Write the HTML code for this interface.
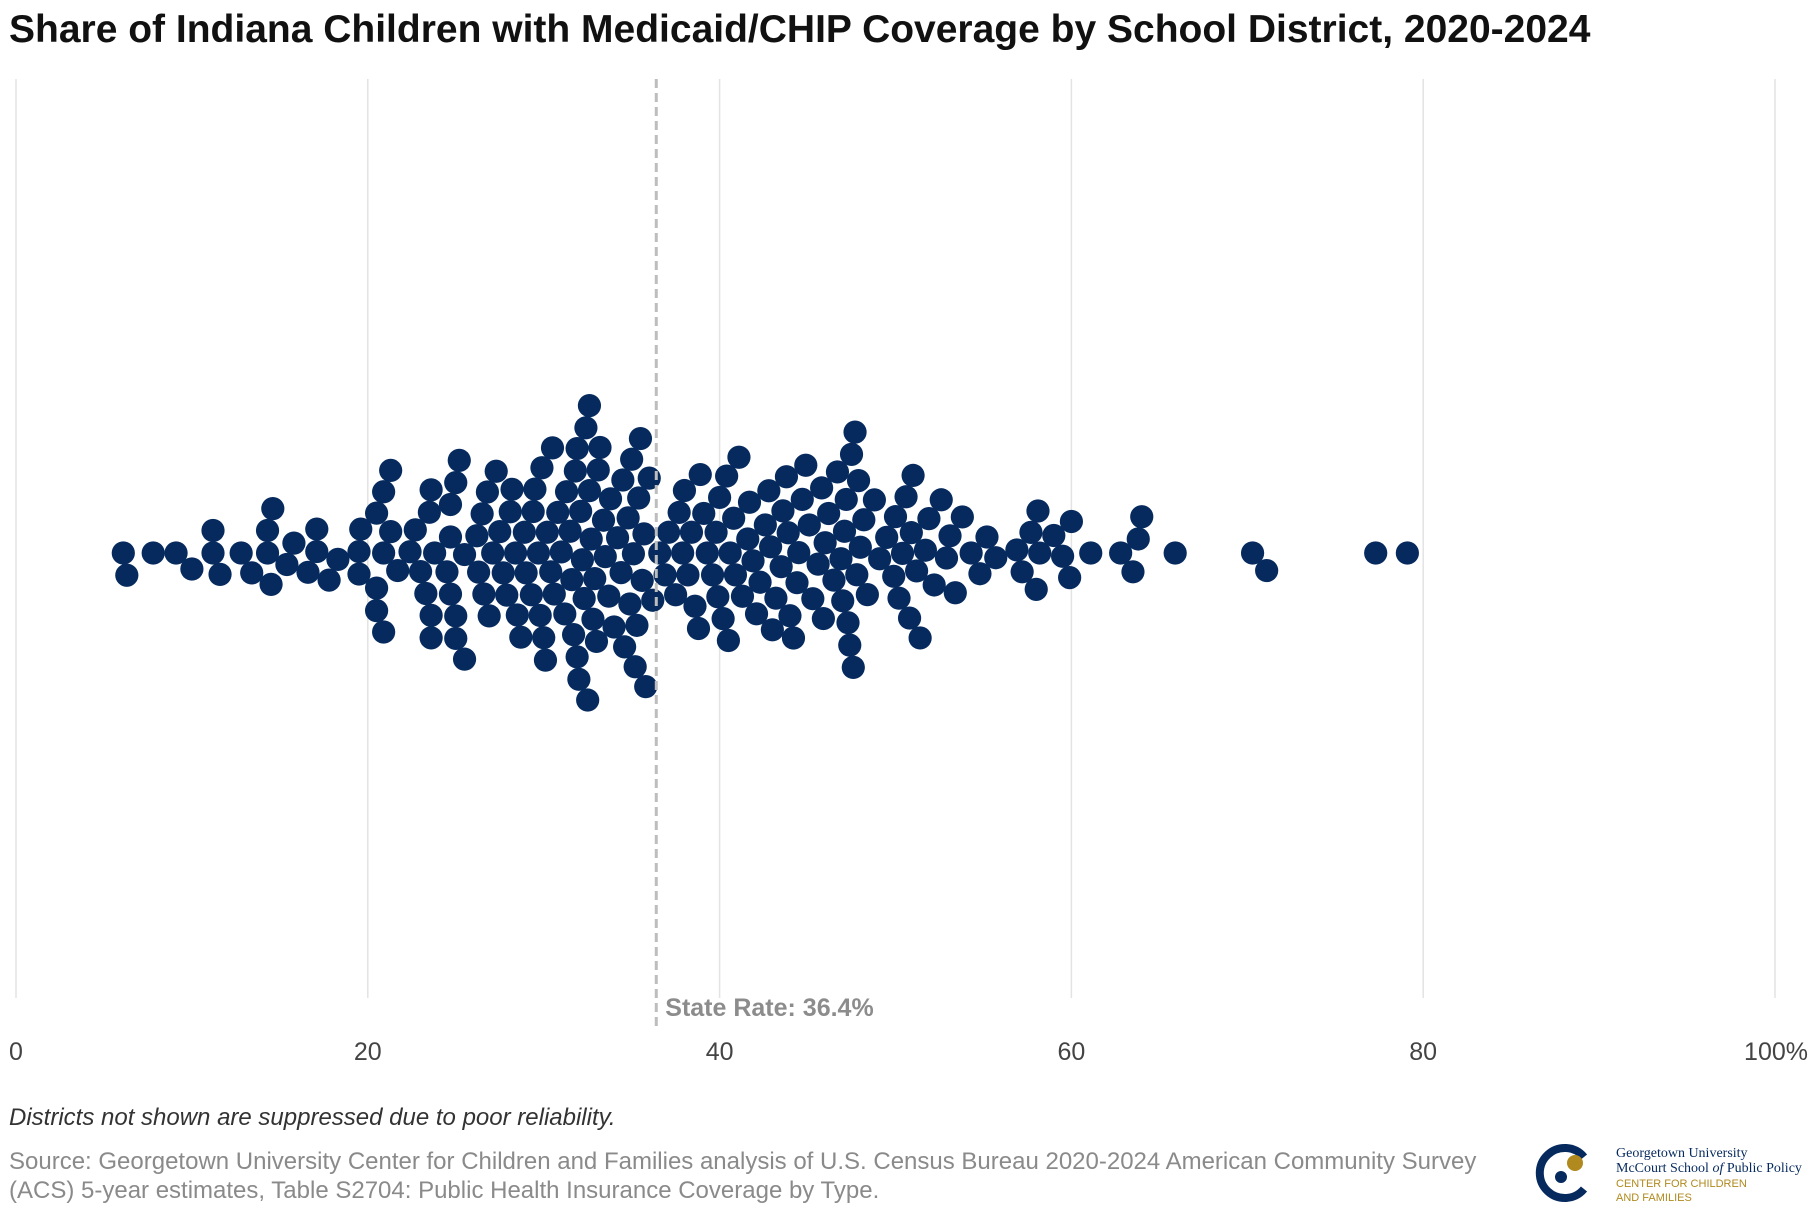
<!DOCTYPE html>
<html><head><meta charset="utf-8">
<style>
body{margin:0;background:#fff;}
svg{display:block;}
</style></head>
<body>
<svg id="chart" width="1820" height="1220" viewBox="0 0 1820 1220" xmlns="http://www.w3.org/2000/svg">
<text x="9" y="42" font-family="Liberation Sans, sans-serif" font-size="39" font-weight="bold" fill="#111">Share of Indiana Children with Medicaid/CHIP Coverage by School District, 2020-2024</text>
<g id="grid"></g>
<g id="ticks"></g>
<g id="dots"></g>
<g id="ref"></g>
<text x="9" y="1125" font-family="Liberation Sans, sans-serif" font-size="24" font-style="italic" fill="#333">Districts not shown are suppressed due to poor reliability.</text>
<text font-family="Liberation Sans, sans-serif" font-size="24" fill="#8a8a8a"><tspan x="9" y="1169">Source: Georgetown University Center for Children and Families analysis of U.S. Census Bureau 2020-2024 American Community Survey</tspan><tspan x="9" y="1198">(ACS) 5-year estimates, Table S2704: Public Health Insurance Coverage by Type.</tspan></text>
<g>
<path d="M1584 1157 A25 25 0 1 0 1584 1189" fill="none" stroke="#062a5e" stroke-width="8"/>
<circle cx="1575" cy="1163" r="8" fill="#b08a1e"/>
<circle cx="1561" cy="1177" r="6" fill="#062a5e"/>
<text x="1616" y="1157" font-family="Liberation Serif, serif" font-size="14" fill="#062a5e">Georgetown University</text>
<text x="1616" y="1172" font-family="Liberation Serif, serif" font-size="14" fill="#062a5e">McCourt School <tspan font-style="italic">of</tspan> Public Policy</text>
<text x="1616" y="1187" font-family="Liberation Sans, sans-serif" font-size="11" fill="#b08a1e">CENTER FOR CHILDREN</text>
<text x="1616" y="1201" font-family="Liberation Sans, sans-serif" font-size="11" fill="#b08a1e">AND FAMILIES</text>
</g>
</svg>
<script>
const tickValues = [0, 20, 40, 60, 80, 100];
const tickLabels = ["0", "20", "40", "60", "80", "100%"];
const stateRate = 36.4;
const shares = [
6.1,6.3,7.8,9.1,10.0,11.2,11.2,11.6,12.8,13.4,14.3,14.3,14.5,14.6,15.4,15.8,16.6,17.1,17.1,17.8,18.3,
19.5,19.5,19.6,20.5,20.5,20.5,20.9,20.9,20.9,21.3,21.3,21.7,
22.4,22.7,23.0,23.3,23.6,23.6,23.8,23.5,23.6,24.5,24.7,24.7,25.0,24.7,25.0,25.0,25.2,25.5,25.5,26.2,
26.3,26.5,26.8,26.9,26.6,
27.1,27.3,27.5,27.7,27.9,
28.1,28.2,28.4,28.5,28.7,28.9,
29.0,29.3,29.4,29.5,29.7,29.8,29.9,
30.0,30.2,30.4,30.5,30.6,30.8,30.1,
31.0,31.2,31.3,31.5,31.6,31.7,31.8,31.9,31.9,
32.0,32.1,32.2,32.3,32.4,32.5,32.6,32.7,32.8,32.9,32.6,
33.0,33.2,33.4,33.5,33.7,33.8,33.1,
34.0,34.2,34.5,34.6,34.8,34.9,34.4,
35.0,35.1,35.2,35.4,35.5,35.6,35.7,35.8,35.3,
36.0,36.2,36.6,36.9,
37.1,37.5,37.7,37.9,
38.0,38.2,38.4,38.6,38.8,38.9,
39.1,39.3,39.6,39.8,39.9,
40.0,40.2,40.4,40.5,40.6,40.8,40.9,
41.1,41.3,41.6,41.7,41.9,
42.1,42.3,42.6,42.8,42.9,
43.0,43.2,43.5,43.6,43.8,43.9,
44.0,44.2,44.4,44.5,44.7,44.9,
45.1,45.3,45.6,45.8,45.9,
46.0,46.2,46.5,46.7,46.9,
47.0,47.1,47.2,47.3,47.4,47.5,47.6,47.7,47.8,47.9,
48.0,48.2,48.4,48.8,
49.1,49.5,49.9,
50.0,50.2,50.4,50.6,50.8,50.9,
51.0,51.2,51.4,51.7,51.9,
52.2,52.6,52.9,
53.1,53.4,53.8,
54.3,54.8,
55.2,55.7,
56.9,57.2,57.7,58.0,58.1,58.2,
59.0,59.5,59.9,60.0,61.1,62.8,63.5,63.8,64.0,65.9,70.3,71.1,77.3,79.1
];

const X0 = 16, X1 = 1775, CY = 553, R = 11.6, TOP = 79, BOT = 998;
const NS = 'http://www.w3.org/2000/svg';
function xScale(v){ return X0 + (X1 - X0) * v / 100; }

const grid = document.getElementById('grid');
const ticks = document.getElementById('ticks');
tickValues.forEach((t, i) => {
  const l = document.createElementNS(NS, 'line');
  l.setAttribute('x1', xScale(t)); l.setAttribute('x2', xScale(t));
  l.setAttribute('y1', TOP); l.setAttribute('y2', BOT);
  l.setAttribute('stroke', '#e3e3e3'); l.setAttribute('stroke-width', '1.5');
  
  
  grid.appendChild(l);
  const tx = document.createElementNS(NS, 'text');
  tx.setAttribute('x', xScale(t)); tx.setAttribute('y', 1060);
  tx.setAttribute('text-anchor', i === 0 ? 'start' : (i === tickValues.length - 1 ? 'end' : 'middle'));
  if (i === 0) tx.setAttribute('x', xScale(t) - 7);
  if (i === tickValues.length - 1) tx.setAttribute('x', xScale(t) + 33);
  tx.setAttribute('font-family', 'Liberation Sans, sans-serif');
  tx.setAttribute('font-size', '25'); tx.setAttribute('fill', '#444');
  tx.textContent = tickLabels[i];
  
  
  ticks.appendChild(tx);
});

// beeswarm layout
const D = 2 * R * 0.97;
const placed = [];
const sorted = shares.map((v, i) => ({v, i})).sort((a, b) => a.v - b.v);
sorted.forEach(p => {
  const x = xScale(p.v);
  const near = placed.filter(q => Math.abs(q.x - x) < D);
  const cands = [0];
  near.forEach(q => {
    const dy = Math.sqrt(D * D - (q.x - x) * (q.x - x));
    cands.push(q.y + dy, q.y - dy);
  });
  cands.sort((a, b) => Math.abs(a) - Math.abs(b));
  let y = 0;
  for (const c of cands) {
    if (near.every(q => (q.x - x) ** 2 + (q.y - c) ** 2 >= D * D - 0.01)) { y = c; break; }
  }
  placed.push({x, y, v: p.v});
});
const dots = document.getElementById('dots');
placed.forEach(p => {
  const c = document.createElementNS(NS, 'circle');
  c.setAttribute('cx', p.x); c.setAttribute('cy', CY + p.y); c.setAttribute('r', R);
  c.setAttribute('fill', '#062a5e');
  
  
  dots.appendChild(c);
});

const ref = document.getElementById('ref');
const rl = document.createElementNS(NS, 'line');
rl.setAttribute('x1', xScale(stateRate)); rl.setAttribute('x2', xScale(stateRate));
rl.setAttribute('y1', TOP); rl.setAttribute('y2', 1028);
rl.setAttribute('stroke', '#bdbdbd'); rl.setAttribute('stroke-width', '3');
rl.setAttribute('stroke-dasharray', '9 5');


ref.appendChild(rl);
const rt = document.createElementNS(NS, 'text');
rt.setAttribute('x', xScale(stateRate) + 9); rt.setAttribute('y', 1016);
rt.setAttribute('font-family', 'Liberation Sans, sans-serif');
rt.setAttribute('font-size', '25'); rt.setAttribute('font-weight', 'bold'); rt.setAttribute('fill', '#8c8c8c');
rt.textContent = 'State Rate: ' + stateRate + '%';


ref.appendChild(rt);
</script>
</body></html>
